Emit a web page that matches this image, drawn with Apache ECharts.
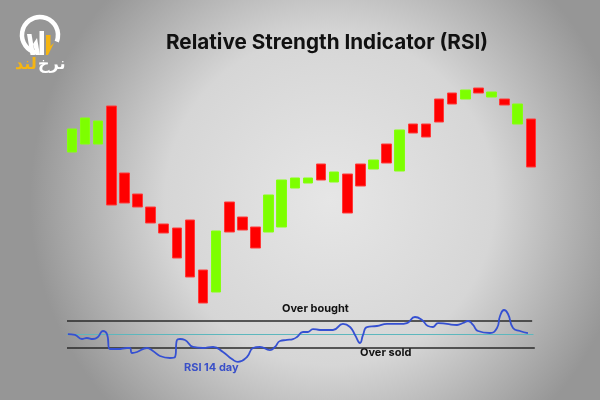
<!DOCTYPE html>
<html>
<head>
<meta charset="utf-8">
<script src="https://cdn.jsdelivr.net/npm/echarts@6/dist/echarts.min.js"></script>
<style>html,body{margin:0;padding:0;}#c{width:600px;height:400px;}</style>
</head>
<body>
<div id="c"></div>
<script>
// price candles: [open, close] (bars without wicks)
const categories = Array.from({length: 36}, (_, i) => 'D' + (i + 1));
const opens  = [158,166,166,204,137,116,103, 86, 82, 90, 40, 18,108, 93, 83, 78, 83,122,127,146,128,136,146,141,166,139,186,186,211,217,211,222,213,211,186,191];
const closes = [181,192,189,105,107,103, 87, 77, 52, 33,  7, 79, 78, 80, 62,115,130,132,132,130,138, 97,124,150,147,180,177,173,188,206,220,217,218,205,206,143];

// RSI 14 day: [time (bar index), value]
const rsiT = [-0.31,0.23,0.76,1.14,1.60,1.98,2.36,2.67,2.90,3.51,4.20,4.42,4.58,4.96,5.72,6.18,6.71,7.48,7.86,8.01,8.24,8.62,9.23,9.99,10.76,11.52,12.20,12.66,13.35,13.81,14.34,15.10,15.48,15.87,16.40,16.86,17.16,17.62,18.00,18.38,18.92,19.91,20.67,21.21,21.59,21.97,22.20,22.50,23.26,24.03,25.02,25.55,26.16,26.70,27.15,27.54,27.92,28.60,29.37,29.82,30.21,30.59,30.97,31.88,32.42,32.65,32.95,33.26,33.64,34.17,34.78];
const rsiV = [50.7,49.3,43.3,44.8,43.3,46.3,55.2,50.7,28.5,28.5,30,30,22.6,24.1,30,25.6,18.2,15.2,16.7,41.9,43.3,41.9,31.5,30,31.5,24.1,13.7,9.3,16.7,30,31.5,27,31.5,40.4,41.9,43.3,46.3,53.7,53.7,58.1,56.7,56.7,65.6,61.1,49.3,37.4,49.3,61.1,62.6,65.6,65.6,67,75.9,71.5,62.6,61.1,67,65.6,64.1,67,70,64.1,55.2,52.2,59.6,77.4,86.3,80.4,59.6,55.2,52.2];

const overBought = 70, midLevel = 50, overSold = 30;
const levelStart = -0.38;
const obEnd = 35.1, midEnd = 35.2, osEnd = 35.3;

const candleData = opens.map((o, i) => {
  const c = closes[i];
  return [o, c, Math.min(o, c), Math.max(o, c)];
});
const rsiData = rsiT.map((t, i) => [t, rsiV[i]]);

const chart = echarts.init(document.getElementById('c'));
chart.setOption({
  animation: false,
  backgroundColor: {
    type: 'radial', x: 0.55, y: 0.5, r: 0.75,
    colorStops: [{offset: 0, color: '#e6e6e6'}, {offset: 0.55, color: '#d6d6d6'}, {offset: 1, color: '#969696'}]
  },
  title: {
    text: 'Relative Strength Indicator (RSI)',
    left: 161, top: 27,
    textStyle: {fontFamily: 'Inter', fontWeight: 'bold', fontSize: 20.7, color: '#111'}
  },
  grid: [
    {left: 65.4, width: 472, top: 80, height: 230},
    {left: 65.4, width: 472, top: 300.75, height: 67.5}
  ],
  xAxis: [
    {type: 'category', data: categories, gridIndex: 0, show: false, boundaryGap: true},
    {type: 'value', gridIndex: 1, min: -0.5, max: 35.5, show: false}
  ],
  yAxis: [
    {type: 'value', gridIndex: 0, min: 0, max: 230, show: false},
    {type: 'value', gridIndex: 1, min: 0, max: 100, show: false}
  ],
  series: [
    {
      type: 'candlestick', xAxisIndex: 0, yAxisIndex: 0, data: candleData, barWidth: 10,
      itemStyle: {color: '#7dff00', color0: '#ff0000', borderColor: '#86ff10', borderColor0: '#ff3a3a', borderWidth: 1}
    },
    {type: 'line', xAxisIndex: 1, yAxisIndex: 1, data: [[levelStart, overBought], [obEnd, overBought]], symbol: 'none', lineStyle: {color: '#2a2a2a', width: 1.3}},
    {type: 'line', xAxisIndex: 1, yAxisIndex: 1, data: [[levelStart, midLevel], [midEnd, midLevel]], symbol: 'none', lineStyle: {color: '#5db7bd', width: 1}},
    {type: 'line', xAxisIndex: 1, yAxisIndex: 1, data: [[levelStart, overSold], [osEnd, overSold]], symbol: 'none', lineStyle: {color: '#2a2a2a', width: 1.3}},
    {type: 'line', xAxisIndex: 1, yAxisIndex: 1, data: rsiData, symbol: 'none', smooth: 0.5, lineStyle: {color: '#3550d2', width: 1.8}}
  ],
  graphic: [
    {type: 'text', left: 282, top: 303, style: {text: 'Over bought', font: 'bold 11px Inter', fill: '#111'}},
    {type: 'text', left: 360, top: 347, style: {text: 'Over sold', font: 'bold 11px Inter', fill: '#111'}},
    {type: 'text', left: 184, top: 362, style: {text: 'RSI 14 day', font: 'bold 11px Inter', fill: '#3a50c8'}},
    // logo
    {type: 'arc', shape: {cx: 40, cy: 35, r: 18, startAngle: Math.PI * 0.55, endAngle: Math.PI * 2.12, clockwise: true}, style: {stroke: '#ffffff', lineWidth: 4.5, fill: null}},
    {type: 'polygon', shape: {points: [[27,34],[31.5,34],[35,55],[30.5,55]]}, style: {fill: '#ffffff'}},
    {type: 'polygon', shape: {points: [[33,44],[37,38],[40,55],[36,55]]}, style: {fill: '#ffffff'}},
    {type: 'rect', shape: {x: 39.5, y: 31, width: 4.5, height: 24}, style: {fill: '#ffffff'}},
    {type: 'polygon', shape: {points: [[46,35],[50.5,35],[50.5,46],[54,43],[48,55],[46,55]]}, style: {fill: '#f5b512'}},
    {type: 'text', left: 15, top: 57, style: {text: 'لند', font: 'bold 16px "DejaVu Sans"', fill: '#f5b512'}},
    {type: 'text', left: 38, top: 57, style: {text: 'نرخ', font: 'bold 16px "DejaVu Sans"', fill: '#ffffff'}}
  ]
});
</script>
</body>
</html>
